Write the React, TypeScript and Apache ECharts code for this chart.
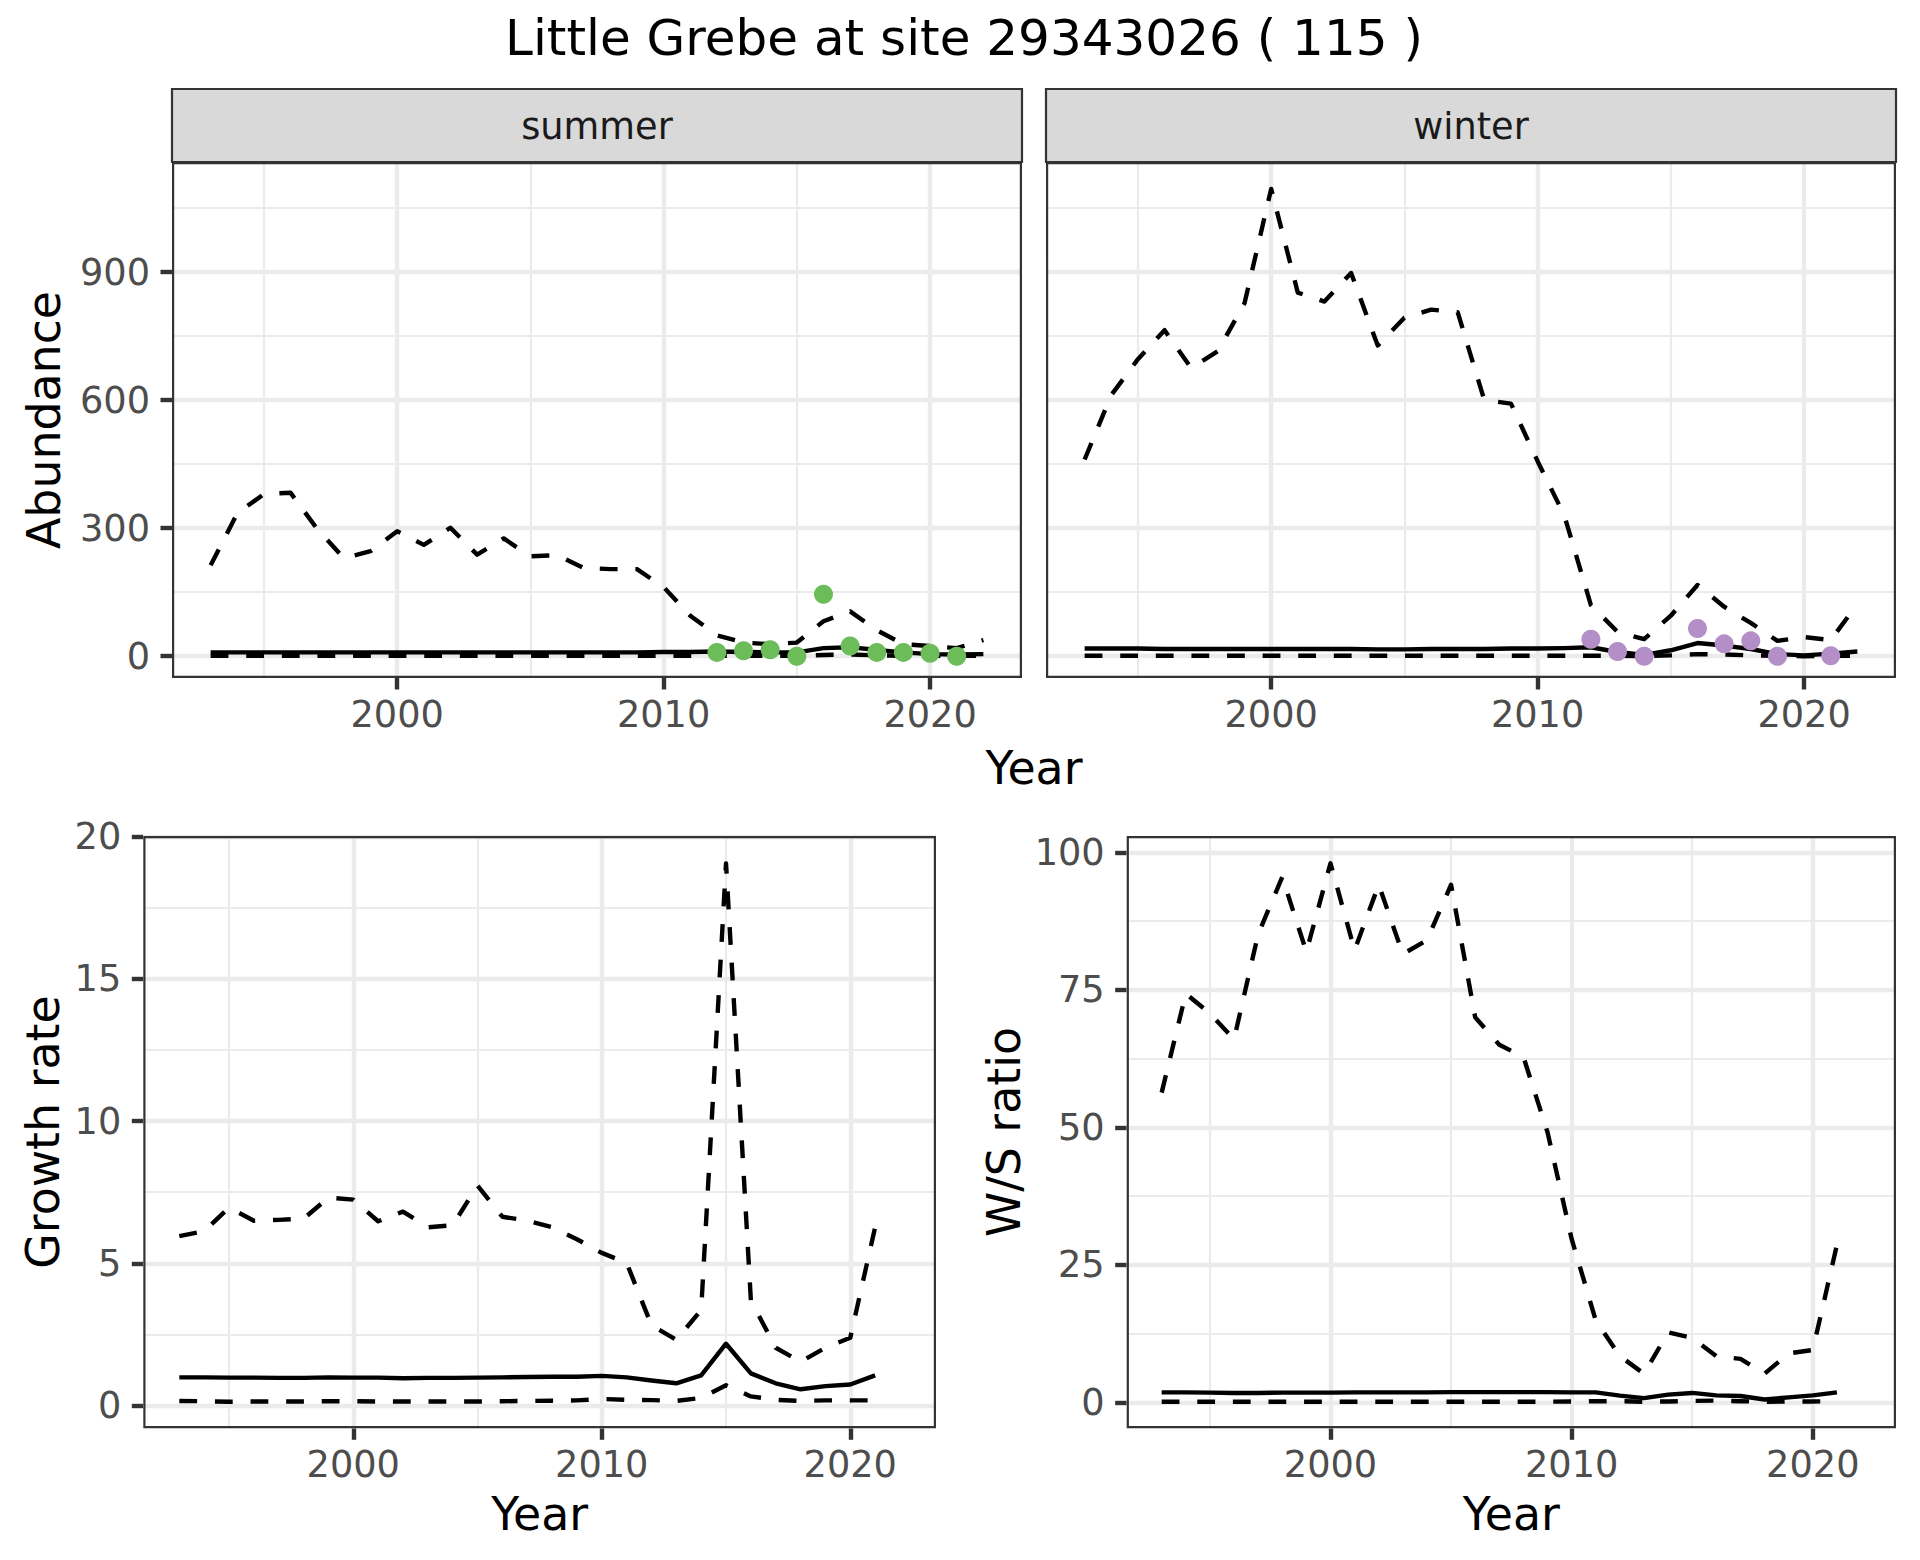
import { useEffect, useRef } from "react";
import * as echarts from "echarts";

// ---------- data ----------
const YEARS = [1993, 1994, 1995, 1996, 1997, 1998, 1999, 2000, 2001, 2002, 2003, 2004, 2005, 2006, 2007, 2008, 2009, 2010, 2011, 2012, 2013, 2014, 2015, 2016, 2017, 2018, 2019, 2020, 2021, 2022];

const SUMMER_UPPER = [213, 335, 380, 383, 298, 230, 246, 293, 261, 301, 238, 276, 234, 237, 207, 204, 204, 162, 95, 49, 32, 28, 32, 82, 105, 61, 28, 24, 19, 38];
const SUMMER_MEAN = [9, 9, 9, 9, 9, 9, 9, 9, 9, 9, 9, 9, 9, 9, 9, 9, 9, 10, 10, 11, 10, 9, 9, 19, 21, 15, 9, 5, 4, 5];
const SUMMER_LOWER = [1, 1, 1, 1, 1, 1, 1, 1, 1, 1, 1, 1, 1, 1, 1, 1, 1, 1, 1, 1, 1, 1, 1, 3, 4, 2, 1, 1, 1, 1];
const SUMMER_COUNT_YEARS = [2012, 2013, 2014, 2015, 2016, 2017, 2018, 2019, 2020, 2021];
const SUMMER_COUNTS = [9, 13, 15, 0, 145, 24, 9, 9, 7, 0];

const WINTER_UPPER = [461, 612, 696, 764, 675, 715, 827, 1095, 852, 831, 898, 728, 793, 812, 806, 600, 592, 457, 330, 120, 57, 40, 95, 167, 116, 78, 36, 45, 38, 122];
const WINTER_MEAN = [18, 18, 18, 17, 17, 17, 17, 17, 17, 17, 17, 16, 16, 17, 17, 17, 18, 18, 19, 21, 10, 3, 14, 31, 25, 17, 5, 2, 6, 11];
const WINTER_LOWER = [1, 1, 1, 1, 1, 1, 1, 1, 1, 1, 1, 1, 1, 1, 1, 1, 1, 1, 1, 1, 1, 0, 2, 5, 4, 2, 1, 0, 1, 1];
const WINTER_COUNT_YEARS = [2012, 2013, 2014, 2016, 2017, 2018, 2019, 2021];
const WINTER_COUNTS = [40, 11, 0, 65, 29, 36, 0, 1];

const RATE_YEARS = [1993, 1994, 1995, 1996, 1997, 1998, 1999, 2000, 2001, 2002, 2003, 2004, 2005, 2006, 2007, 2008, 2009, 2010, 2011, 2012, 2013, 2014, 2015, 2016, 2017, 2018, 2019, 2020, 2021];

const GROWTH_UPPER = [5.96, 6.13, 6.96, 6.5, 6.53, 6.57, 7.31, 7.24, 6.48, 6.82, 6.27, 6.34, 7.73, 6.64, 6.5, 6.27, 5.85, 5.37, 5.02, 2.83, 2.32, 3.36, 19.05, 3.7, 2.04, 1.55, 2.04, 2.39, 6.27];
const GROWTH_MEAN = [1.0, 1.0, 0.99, 0.99, 0.98, 0.98, 1.0, 0.99, 0.99, 0.97, 0.98, 0.98, 0.99, 1.0, 1.01, 1.02, 1.02, 1.05, 1.0, 0.89, 0.79, 1.07, 2.18, 1.14, 0.79, 0.58, 0.69, 0.75, 1.07];
const GROWTH_LOWER = [0.17, 0.16, 0.14, 0.15, 0.15, 0.15, 0.16, 0.16, 0.15, 0.15, 0.15, 0.15, 0.15, 0.16, 0.17, 0.18, 0.19, 0.24, 0.21, 0.2, 0.17, 0.28, 0.72, 0.33, 0.21, 0.17, 0.19, 0.19, 0.19];

const WS_UPPER = [56.3, 74.3, 70.7, 66.0, 85.1, 95.5, 81.9, 98.0, 82.2, 94.1, 81.5, 84.0, 94.1, 70.0, 65.0, 62.8, 49.1, 29.7, 14.9, 8.4, 5.2, 12.7, 11.7, 8.4, 7.9, 5.2, 8.9, 9.5, 28.6];
const WS_MEAN = [1.8, 1.8, 1.75, 1.7, 1.7, 1.75, 1.75, 1.75, 1.8, 1.8, 1.8, 1.8, 1.85, 1.85, 1.85, 1.85, 1.85, 1.8, 1.8, 1.2, 0.75, 1.4, 1.7, 1.25, 1.15, 0.5, 0.9, 1.25, 1.8];
const WS_LOWER = [0.1, 0.1, 0.1, 0.1, 0.1, 0.1, 0.1, 0.1, 0.1, 0.1, 0.1, 0.1, 0.1, 0.1, 0.1, 0.1, 0.1, 0.15, 0.2, 0.2, 0.1, 0.15, 0.25, 0.3, 0.2, 0.1, 0.15, 0.15, 0.2];

const X_MAJOR = [2000, 2010, 2020];
const X_MINOR = [1995, 2005, 2015];
const ABUND_MAJOR = [0, 300, 600, 900];
const ABUND_MINOR = [150, 450, 750, 1050];
const GROWTH_MAJOR = [0, 5, 10, 15, 20];
const GROWTH_MINOR = [2.5, 7.5, 12.5, 17.5];
const WS_MAJOR = [0, 25, 50, 75, 100];
const WS_MINOR = [12.5, 37.5, 62.5, 87.5];

const TITLE = "Little Grebe at site 29343026 ( 115 )";
const STRIPS = ["summer", "winter"];

// ---------- styling / layout ----------
const FONT = "DejaVu Sans";
const X_RANGE: [number, number] = [1991.55, 2023.45];
const PANELS = [
  { left: 172, top: 162, width: 850, height: 516, y: [-51, 1158], major: ABUND_MAJOR, minor: ABUND_MINOR, yLabels: true },
  { left: 1046, top: 162, width: 850, height: 516, y: [-51, 1158], major: ABUND_MAJOR, minor: ABUND_MINOR, yLabels: false },
  { left: 143.3, top: 836, width: 792.7, height: 592.3, y: [-0.79, 20.01], major: GROWTH_MAJOR, minor: GROWTH_MINOR, yLabels: true },
  { left: 1126.7, top: 836, width: 769.3, height: 592.3, y: [-4.73, 102.96], major: WS_MAJOR, minor: WS_MINOR, yLabels: true },
];
const LW = 4.4;
const DASH = [17.8, 17.8];
const GRID_COL = "#EBEBEB";
const DARK = "#333333";
const TICK_TXT = "#4D4D4D";
const GREEN = "#6CBC5A";
const PURPLE = "#B48EC6";

function pairs(xs: number[], ys: number[]) {
  return xs.map((x, i) => [x, ys[i]]);
}

const plain = (v: number) => String(v);

function buildOption() {
  const grid = PANELS.map((p) => ({
    left: p.left,
    top: p.top,
    width: p.width,
    height: p.height,
    containLabel: false,
    outerBoundsMode: "none",
    show: true,
    backgroundColor: "#FFFFFF",
    borderWidth: 0,
  }));

  const xAxis = PANELS.map((_, i) => ({
    type: "value",
    gridIndex: i,
    min: X_RANGE[0],
    max: X_RANGE[1],
    axisLine: { show: false, onZero: false },
    splitLine: { show: false },
    axisTick: { show: true, length: 11.5, customValues: X_MAJOR, lineStyle: { color: DARK, width: LW } },
    axisLabel: { show: true, customValues: X_MAJOR, formatter: plain, margin: 18, color: TICK_TXT, fontSize: 36.7, fontFamily: FONT },
  }));

  const yAxis = PANELS.map((p, i) => ({
    type: "value",
    gridIndex: i,
    min: p.y[0],
    max: p.y[1],
    axisLine: { show: false, onZero: false },
    splitLine: { show: false },
    axisTick: { show: p.yLabels, length: 11.5, customValues: p.major, lineStyle: { color: DARK, width: LW } },
    axisLabel: { show: p.yLabels, customValues: p.major, formatter: plain, margin: 22, color: TICK_TXT, fontSize: 36.7, fontFamily: FONT },
  }));

  const series: any[] = [];

  // grid lines (through the axes' scales)
  PANELS.forEach((p, i) => {
    const lines: any[] = [];
    X_MINOR.forEach((v) => lines.push({ xAxis: v, lineStyle: { width: LW / 2, color: GRID_COL, type: "solid" } }));
    p.minor.forEach((v) => lines.push({ yAxis: v, lineStyle: { width: LW / 2, color: GRID_COL, type: "solid" } }));
    X_MAJOR.forEach((v) => lines.push({ xAxis: v, lineStyle: { width: LW, color: GRID_COL, type: "solid" } }));
    p.major.forEach((v) => lines.push({ yAxis: v, lineStyle: { width: LW, color: GRID_COL, type: "solid" } }));
    series.push({
      type: "line",
      xAxisIndex: i,
      yAxisIndex: i,
      data: [],
      silent: true,
      z: 1,
      markLine: {
        silent: true,
        z: 1,
        symbol: ["none", "none"],
        label: { show: false },
        emphasis: { disabled: true },
        animation: false,
        data: lines,
      },
    });
  });

  const lineSeries = (i: number, xs: number[], ys: number[], dashed: boolean) => ({
    type: "line",
    xAxisIndex: i,
    yAxisIndex: i,
    data: pairs(xs, ys),
    showSymbol: false,
    symbol: "none",
    silent: true,
    z: 3,
    emphasis: { disabled: true },
    lineStyle: { color: "#000000", width: LW, type: dashed ? DASH : "solid", join: "round", cap: "butt" },
  });

  const pointSeries = (i: number, xs: number[], ys: number[], color: string) => ({
    type: "scatter",
    xAxisIndex: i,
    yAxisIndex: i,
    data: pairs(xs, ys),
    symbol: "circle",
    symbolSize: 19,
    silent: true,
    z: 4,
    emphasis: { disabled: true },
    itemStyle: { color, opacity: 1 },
  });

  series.push(lineSeries(0, YEARS, SUMMER_MEAN, false));
  series.push(lineSeries(0, YEARS, SUMMER_UPPER, true));
  series.push(lineSeries(0, YEARS, SUMMER_LOWER, true));
  series.push(pointSeries(0, SUMMER_COUNT_YEARS, SUMMER_COUNTS, GREEN));

  series.push(lineSeries(1, YEARS, WINTER_MEAN, false));
  series.push(lineSeries(1, YEARS, WINTER_UPPER, true));
  series.push(lineSeries(1, YEARS, WINTER_LOWER, true));
  series.push(pointSeries(1, WINTER_COUNT_YEARS, WINTER_COUNTS, PURPLE));

  series.push(lineSeries(2, RATE_YEARS, GROWTH_MEAN, false));
  series.push(lineSeries(2, RATE_YEARS, GROWTH_UPPER, true));
  series.push(lineSeries(2, RATE_YEARS, GROWTH_LOWER, true));

  series.push(lineSeries(3, RATE_YEARS, WS_MEAN, false));
  series.push(lineSeries(3, RATE_YEARS, WS_UPPER, true));
  series.push(lineSeries(3, RATE_YEARS, WS_LOWER, true));

  const graphic: any[] = [];
  // title
  graphic.push({
    type: "text", x: 964, y: 38, z: 100,
    style: { text: TITLE, font: `50px "${FONT}"`, fill: "#000000", align: "center", verticalAlign: "middle" },
  });
  // strips
  STRIPS.forEach((s, i) => {
    const p = PANELS[i];
    graphic.push({
      type: "rect", z: 90,
      shape: { x: p.left, y: 89, width: p.width, height: p.top - 89 },
      style: { fill: "#D9D9D9", stroke: DARK, lineWidth: 2.2 },
    });
    graphic.push({
      type: "text", x: p.left + p.width / 2, y: 126, z: 100,
      style: { text: s, font: `36.7px "${FONT}"`, fill: "#1A1A1A", align: "center", verticalAlign: "middle" },
    });
  });
  // panel borders
  PANELS.forEach((p) => {
    graphic.push({
      type: "rect", z: 100,
      shape: { x: p.left + 1.1, y: p.top + 1.1, width: p.width - 2.2, height: p.height - 2.2 },
      style: { fill: "rgba(0,0,0,0)", stroke: DARK, lineWidth: 2.2 },
    });
  });
  // axis titles
  const axisTitle = (text: string, x: number, y: number, rotate: boolean) => ({
    type: "text", x, y, z: 100, rotation: rotate ? Math.PI / 2 : 0,
    style: { text, font: `45.8px "${FONT}"`, fill: "#000000", align: "center", verticalAlign: "middle" },
  });
  graphic.push(axisTitle("Abundance", 44, 420, true));
  graphic.push(axisTitle("Year", 1034, 768, false));
  graphic.push(axisTitle("Growth rate", 43, 1132, true));
  graphic.push(axisTitle("Year", PANELS[2].left + PANELS[2].width / 2, 1514, false));
  graphic.push(axisTitle("W/S ratio", 1004, 1132, true));
  graphic.push(axisTitle("Year", PANELS[3].left + PANELS[3].width / 2, 1514, false));

  return {
    animation: false,
    backgroundColor: "#FFFFFF",
    textStyle: { fontFamily: FONT },
    grid,
    xAxis,
    yAxis,
    series,
    graphic,
  };
}

export default function App() {
  const ref = useRef<HTMLDivElement>(null);
  useEffect(() => {
    if (!ref.current) return;
    const chart = echarts.init(ref.current, null, { renderer: "svg" });
    chart.setOption(buildOption() as any);
    return () => chart.dispose();
  }, []);
  return (
    <div
      ref={ref}
      style={{ position: "absolute", left: 0, top: 0, width: 1920, height: 1560, background: "#FFFFFF" }}
    />
  );
}
